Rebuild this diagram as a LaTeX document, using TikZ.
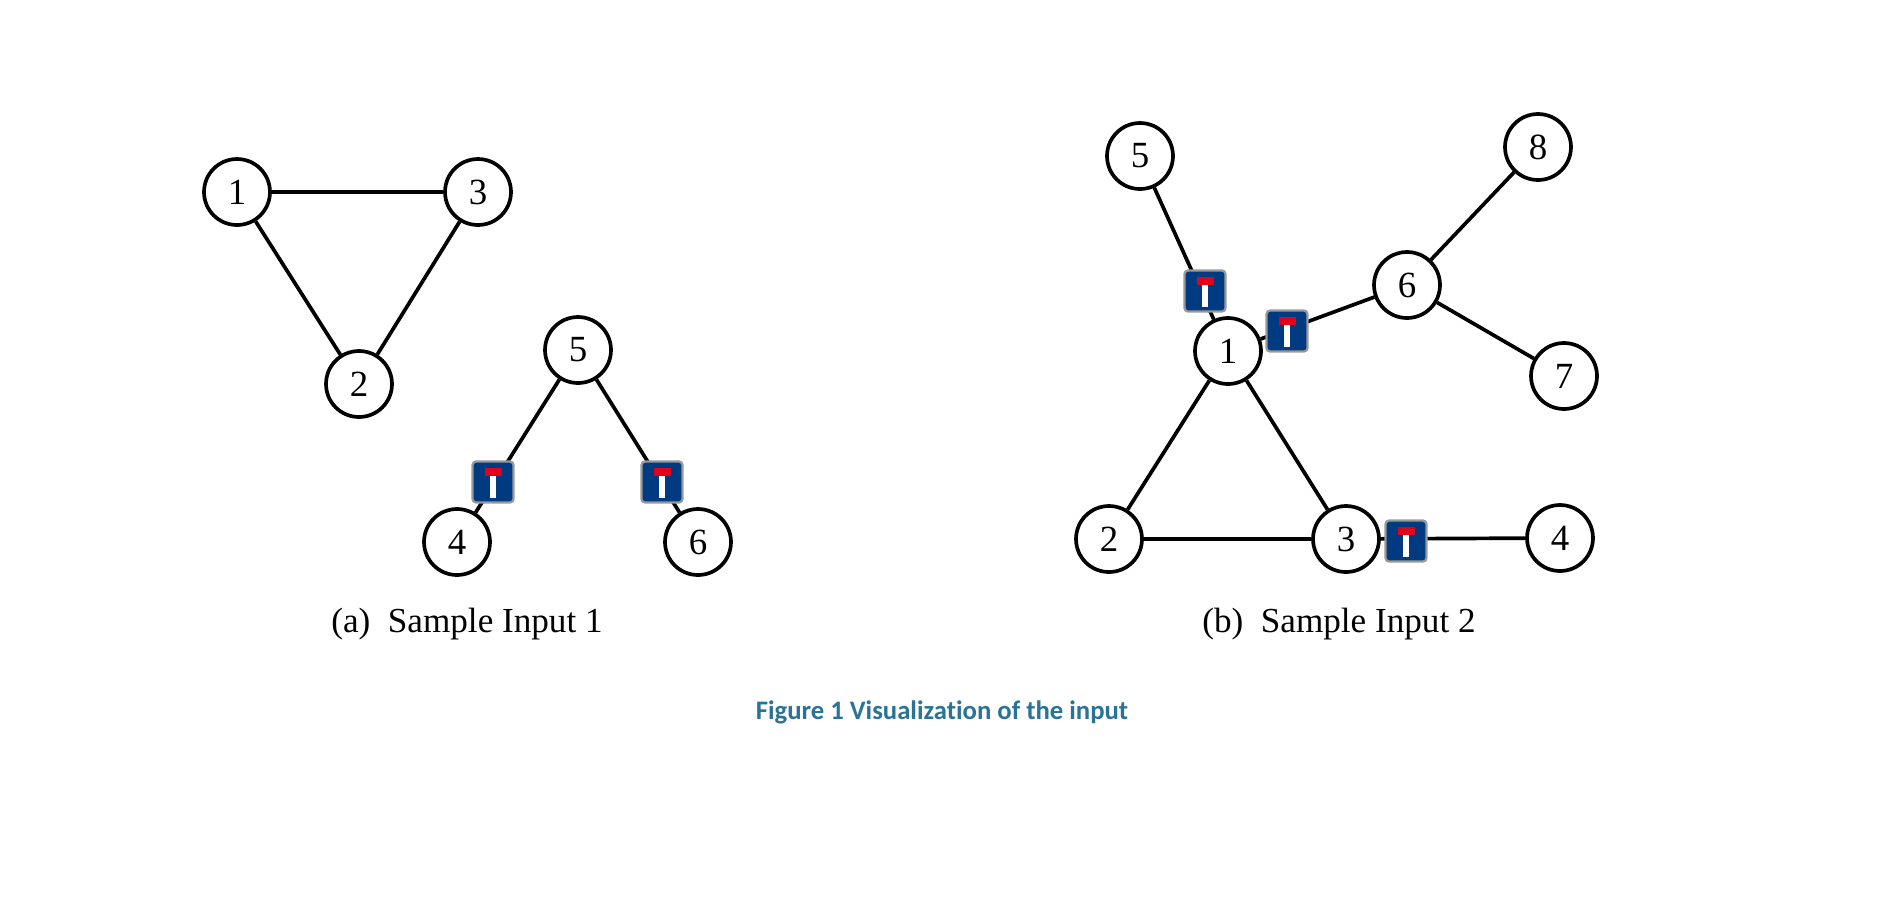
\documentclass[tikz,border=0pt]{standalone}
\usepackage{xcolor}
\usepackage{fontspec}
\setmainfont{Liberation Serif}
\newfontfamily\capfont[Ligatures=NoCommon]{Carlito}
\usetikzlibrary{positioning, calc}
\definecolor{signblue}{HTML}{003A80}
\definecolor{signred}{HTML}{E2001A}
\definecolor{capblue}{HTML}{2A7396}
\tikzset{
    vertex/.style={circle, draw=black, line width=2.1pt, fill=white, minimum size=1.32cm, inner sep=0pt, font=\fontsize{21}{24}\selectfont},
    edge/.style={line width=2.1pt, black},
    deadend/.style={rectangle, rounded corners=2pt, draw=black!40, line width=1.3pt, fill=signblue, minimum size=0.82cm, inner sep=0pt,
        path picture={
            \fill[white, sharp corners] ($(path picture bounding box.center)+(-0.06cm,0.12cm)$) rectangle ($(path picture bounding box.center)+(0.06cm,-0.31cm)$);
            \fill[signred, sharp corners] ($(path picture bounding box.center)+(-0.17cm,0.29cm)$) rectangle ($(path picture bounding box.center)+(0.17cm,0.12cm)$);
        }},
    subcap/.style={font=\fontsize{20}{24}\selectfont},
}

\begin{document}
\begin{tikzpicture}[x=0.02cm, y=-0.02cm]
\useasboundingbox (0,0) rectangle (1884,921);

% Sample Input 1
\foreach \name/\lbl/\x/\y in {a1/1/237/192, a3/3/478/192, a2/2/359/384, a5/5/578/350, a4/4/457/542, a6/6/698/542} {
    \node[vertex] (\name) at (\x,\y) {\lbl};
}
\foreach \from/\to in {a1/a3, a1/a2, a3/a2, a5/a4, a5/a6} {
    \draw[edge] (\from) -- (\to);
}

% Sample Input 2
\foreach \name/\lbl/\x/\y in {b5/5/1140/156, b8/8/1538/147, b6/6/1407/285, b7/7/1564/376, b1/1/1228/351, b2/2/1109/539, b3/3/1346/539, b4/4/1560/538} {
    \node[vertex] (\name) at (\x,\y) {\lbl};
}
\foreach \from/\to in {b5/b1, b1/b6, b6/b8, b6/b7, b1/b2, b1/b3, b2/b3, b3/b4} {
    \draw[edge] (\from) -- (\to);
}

% Dead end signs
\foreach \name/\x/\y in {s1/493/482, s2/662/482, s3/1205/291, s4/1287/331, s5/1406/541} {
    \node[deadend] (\name) at (\x,\y) {};
}

% Captions
\node[subcap] (capa) at (467,624) {(a)\ \ Sample Input 1};
\node[subcap] (capb) at (1339,624) {(b)\ \ Sample Input 2};
\node[font=\capfont\bfseries\fontsize{15.2}{18}\selectfont, text=capblue] (capfig) at (942,712) {Figure 1 Visualization of the input};
\end{tikzpicture}
\end{document}
